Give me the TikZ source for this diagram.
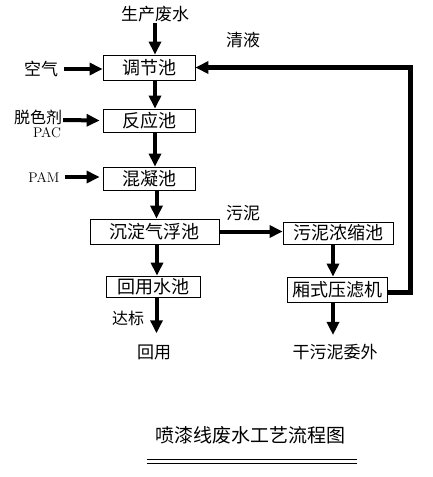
\documentclass[tikz,border=0pt]{standalone}
\usepackage{fontspec}
\newfontfamily\cjk{Noto Sans CJK SC}
\usetikzlibrary{arrows.meta}

\begin{document}

\begin{tikzpicture}[x = 1pt, y = -1pt, > = {Triangle[length = 13pt, width = 12pt]},
	tank/.style = {draw, thick, rectangle, inner sep = 0pt, font = \cjk\fontsize{18}{18}\selectfont},
	label/.style = {inner sep = 1pt, font = \cjk\fontsize{17}{17}\selectfont},
	flow/.style = {line width = 4pt, ->}]

	% Frame
	
	\useasboundingbox (0, 0) rectangle (433, 477);

	% Tanks
	
	\node [tank, minimum width = 92pt, minimum height = 25pt] (tiao) at (149, 67.5) {调节池};
	\node [tank, minimum width = 92pt, minimum height = 23pt] (fan) at (149, 120.5) {反应池};
	\node [tank, minimum width = 92pt, minimum height = 23pt] (hun) at (149, 178.5) {混凝池};
	\node [tank, minimum width = 129pt, minimum height = 25pt] (chen) at (154.5, 231.5) {沉淀气浮池};
	\node [tank, minimum width = 94pt, minimum height = 21pt] (hui) at (153, 286.5) {回用水池};
	\node [tank, minimum width = 110pt, minimum height = 22pt] (nong) at (338, 233) {污泥浓缩池};
	\node [tank, minimum width = 100pt, minimum height = 25pt] (ya) at (337, 289.5) {厢式压滤机};
	
	% Labels
	
	\node [label] (water) at (155, 14) {生产废水};
	\node [label] (qing) at (243, 40) {清液};
	\node [label] (air) at (41, 69) {空气};
	\node [label, font = \cjk\fontsize{16}{16}\selectfont] (agent) at (38, 117) {脱色剂};
	\node [label, font = \rmfamily\fontsize{14}{14}\selectfont] (pac) at (47, 133) {PAC};
	\node [label, font = \rmfamily\fontsize{14}{14}\selectfont] (pam) at (44, 177) {PAM};
	\node [label] (wuni) at (243, 213) {污泥};
	\node [label, font = \cjk\fontsize{16}{16}\selectfont] (dabiao) at (128, 318) {达标};
	\node [label] (reuse) at (154, 352) {回用};
	\node [label] (dry) at (335, 352) {干污泥委外};
	\node [label, font = \cjk\fontsize{19}{19}\selectfont] (title) at (250, 435) {喷漆线废水工艺流程图};
	
	% Main line
	
	\draw [flow] (water) -- (water |- tiao.north);
	\draw [flow] ([xshift = 6pt] tiao.south) -- ([xshift = 6pt] fan.north);
	\draw [flow] ([xshift = 6pt] fan.south) -- ([xshift = 6pt] hun.north);
	\draw [flow] ([xshift = 7.5pt] hun.south) -- ([xshift = 7.5pt] hun.south |- chen.north);
	\draw [flow] ([xshift = 2.5pt] chen.south) -- ([xshift = 2.5pt] chen.south |- hui.north);
	\draw [flow] ([xshift = 3.5pt] hui.south) -- ([xshift = 3.5pt, yshift = 10pt] hui.south |- reuse.north);
	
	% Dosing
	
	\draw [flow] (air.east) ++(5, 0) -- (tiao.west |- air.east);
	\draw [flow] ([yshift = -3pt] agent.east) -- ([xshift = -3pt] fan.west);
	\draw [flow] (pam.east) ++(4, 0) -- ([xshift = -3pt] hun.west |- pam.east);
	
	% Sludge line
	
	\draw [flow] (chen.east) -- (nong.west |- chen.east);
	\draw [flow] ([xshift = -5pt] nong.south) -- ([xshift = -5pt] nong.south |- ya.north);
	\draw [flow] ([xshift = -4pt] ya.south) -- ([xshift = -4pt, yshift = 8pt] ya.south |- dry.north);
	
	% Return liquid
	
	\coordinate (turn) at (410, 292);
	\draw [line width = 5pt, ->, line join = miter] (ya.east |- turn) -- (turn) -- (turn |- tiao.east) -- (tiao.east);
	
	% Title rule
	
	\draw [thick] (147, 459) -- (357, 459);
	\draw [thick] (147, 463.5) -- (357, 463.5);

\end{tikzpicture}

\end{document}
